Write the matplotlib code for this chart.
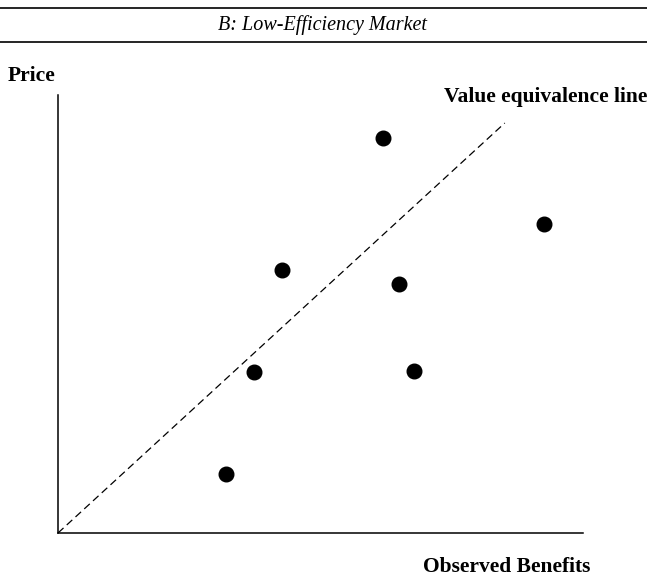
import matplotlib.pyplot as plt
from matplotlib.lines import Line2D

# observed benefits (x) and price (y), arbitrary units 0-10
benefits = [6.19, 9.26, 4.27, 6.50, 3.73, 6.78, 3.20]
prices = [9.02, 7.05, 6.00, 5.68, 3.68, 3.70, 1.35]

# value equivalence line end points
line_x = [0, 8.51]
line_y = [0, 9.36]

W, H = 647, 577
fig = plt.figure(figsize=(W / 100, H / 100), dpi=100)
plt.rcParams['font.family'] = 'Liberation Serif'

ax = fig.add_axes([58 / W, (H - 533) / H, (583 - 58) / W, (533 - 95) / H])
ax.set_xlim(0, 10)
ax.set_ylim(0, 10)
ax.spines['top'].set_visible(False)
ax.spines['right'].set_visible(False)
for s in ['left', 'bottom']:
    ax.spines[s].set_linewidth(1.1)
ax.set_xticks([])
ax.set_yticks([])

#dashed value line and the points
ax.plot(line_x, line_y, color='black', lw=0.9, ls=(0, (6, 3.5)))
ax.plot(benefits, prices, 'o', color='black', markersize=10.5)

#title between two rules
fig.add_artist(Line2D([0, 1], [1 - 8 / H, 1 - 8 / H], color='black', lw=1.2))
fig.add_artist(Line2D([0, 1], [1 - 42 / H, 1 - 42 / H], color='black', lw=1.2))
fig.text(323 / W, 1 - 25 / H, 'B: Low-Efficiency Market', ha='center', va='center',
         fontsize=14.5, style='italic')

#axis labels
fig.text(8 / W, 1 - 76 / H, 'Price', ha='left', va='center', fontsize=15.5, weight='bold')
fig.text(647 / W, 1 - 97 / H, 'Value equivalence line', ha='right', va='center',
         fontsize=15.5, weight='bold')
fig.text(590 / W, 1 - 567 / H, 'Observed Benefits', ha='right', va='center',
         fontsize=15.5, weight='bold')

fig.savefig('out.png', dpi=100)
